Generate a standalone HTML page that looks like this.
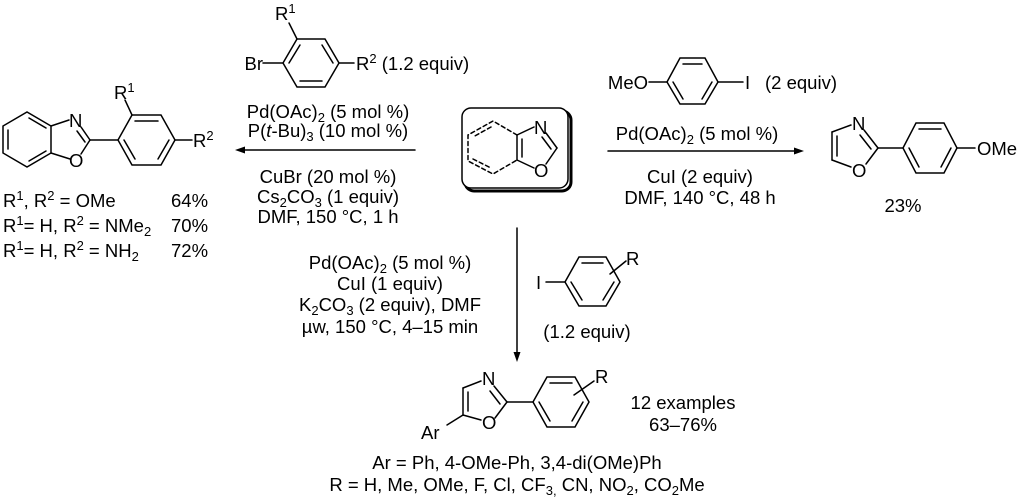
<!DOCTYPE html>
<html><head><meta charset="utf-8"><style>
html,body{margin:0;padding:0;background:#fff;}
svg{display:block;font-family:"Liberation Sans",sans-serif;}
text{font-size:18.5px;fill:#000;}
.s{font-size:13px;}
</style></head><body>
<svg width="1024" height="504" viewBox="0 0 1024 504" xmlns="http://www.w3.org/2000/svg">
<g stroke="#000" stroke-width="1.5" fill="none" stroke-linecap="round">
<path d="M3,126 L3,153 L27,167 L51,153 L51,126 L27,112 Z"/>
<line x1="8" y1="130" x2="8" y2="149"/>
<line x1="29" y1="118" x2="46" y2="128"/>
<line x1="29" y1="161" x2="46" y2="151"/>
<line x1="51" y1="126" x2="69" y2="120"/>
<line x1="81" y1="127" x2="90" y2="140"/>
<line x1="77" y1="131" x2="85" y2="142"/>
<line x1="90" y1="140" x2="81" y2="154"/>
<line x1="70" y1="159" x2="51" y2="153"/>
<line x1="90" y1="140" x2="118" y2="140"/>
<path d="M118,140 L132,115 L161,115 L175,140 L161,165 L132,165 Z"/>
<line x1="135" y1="121" x2="158" y2="121"/>
<line x1="169" y1="140" x2="158" y2="159"/>
<line x1="124" y1="140" x2="135" y2="159"/>
<line x1="132" y1="115" x2="125" y2="100"/>
<line x1="175" y1="140" x2="192" y2="140"/>
<line x1="263" y1="63" x2="283" y2="63"/>
<path d="M283,63 L297,39 L325,39 L339,63 L325,87 L297,87 Z"/>
<line x1="289" y1="63" x2="300" y2="45"/>
<line x1="322" y1="45" x2="333" y2="63"/>
<line x1="300" y1="81" x2="322" y2="81"/>
<line x1="297" y1="39" x2="289" y2="23"/>
<line x1="339" y1="63" x2="354" y2="63"/>
<line x1="415" y1="150" x2="242" y2="150"/>
<line x1="608" y1="151" x2="796" y2="151"/>
<line x1="517" y1="228" x2="517" y2="353"/>
<rect x="465" y="111" width="106" height="80" rx="9" stroke-width="3"/>
<rect x="462" y="108" width="106" height="80" rx="9" fill="#fff"/>
<line x1="517" y1="135" x2="534" y2="127"/>
<line x1="546" y1="133" x2="557" y2="148"/>
<line x1="542" y1="137" x2="551" y2="149"/>
<line x1="557" y1="148" x2="546" y2="164"/>
<line x1="534" y1="168" x2="517" y2="160"/>
<line x1="517" y1="135" x2="517" y2="160"/>
<line x1="522" y1="139" x2="522" y2="157"/>
<g stroke-dasharray="4,3">
<path d="M517,135 L493,121 L468,135 L468,161 L493,174 L517,160"/>
<line x1="491" y1="127" x2="473" y2="137"/>
<line x1="473" y1="159" x2="491" y2="168"/>
</g>
<line x1="649" y1="82" x2="667" y2="82"/>
<path d="M667,82 L680,58 L705,58 L718,82 L705,104 L680,104 Z"/>
<line x1="683" y1="64" x2="702" y2="64"/>
<line x1="712" y1="82" x2="702" y2="99"/>
<line x1="673" y1="82" x2="683" y2="99"/>
<line x1="718" y1="82" x2="743" y2="82"/>
<line x1="832" y1="132" x2="851" y2="125"/>
<line x1="864" y1="130" x2="878" y2="148"/>
<line x1="860" y1="135" x2="871" y2="149"/>
<line x1="878" y1="148" x2="866" y2="164"/>
<line x1="851" y1="167" x2="832" y2="160"/>
<line x1="832" y1="132" x2="832" y2="160"/>
<line x1="837" y1="136" x2="837" y2="156"/>
<line x1="878" y1="148" x2="903" y2="148"/>
<path d="M903,148 L916,123 L944,123 L957,148 L944,173 L916,173 Z"/>
<line x1="919" y1="129" x2="941" y2="129"/>
<line x1="951" y1="148" x2="941" y2="167"/>
<line x1="909" y1="148" x2="919" y2="167"/>
<line x1="957" y1="148" x2="975" y2="148"/>
<line x1="546" y1="282" x2="565" y2="282"/>
<path d="M565,282 L579,257 L606,257 L620,282 L606,306 L579,306 Z"/>
<line x1="582" y1="263" x2="603" y2="263"/>
<line x1="614" y1="282" x2="603" y2="300"/>
<line x1="571" y1="282" x2="582" y2="300"/>
<line x1="610" y1="274" x2="626" y2="261"/>
<line x1="463" y1="388" x2="481" y2="381"/>
<line x1="494" y1="386" x2="507" y2="402"/>
<line x1="490" y1="391" x2="500" y2="404"/>
<line x1="507" y1="402" x2="495" y2="418"/>
<line x1="481" y1="420" x2="463" y2="415"/>
<line x1="463" y1="388" x2="463" y2="415"/>
<line x1="468" y1="392" x2="468" y2="411"/>
<line x1="463" y1="415" x2="447" y2="425"/>
<line x1="507" y1="402" x2="533" y2="402"/>
<path d="M533,402 L547,377 L575,377 L589,402 L575,427 L547,427 Z"/>
<line x1="550" y1="383" x2="572" y2="383"/>
<line x1="583" y1="402" x2="572" y2="421"/>
<line x1="539" y1="402" x2="550" y2="421"/>
<line x1="574" y1="395" x2="594" y2="381"/>
</g>
<g fill="#000">
<polygon points="235,150 245,146.5 245,153.5"/>
<polygon points="804,151 794,147.5 794,154.5"/>
<polygon points="517,362 513.5,352 520.5,352"/>
</g>
<g>
<text x="69" y="127">N</text>
<text x="69" y="167">O</text>
<text x="114" y="99">R<tspan class="s" dy="-7">1</tspan></text>
<text x="193" y="147">R<tspan class="s" dy="-7">2</tspan></text>
<text x="3" y="207">R<tspan class="s" dy="-7">1</tspan><tspan dy="7">, R</tspan><tspan class="s" dy="-7">2</tspan><tspan dy="7"> = OMe</tspan></text>
<text x="171" y="207">64%</text>
<text x="3" y="232">R<tspan class="s" dy="-7">1</tspan><tspan dy="7">= H, R</tspan><tspan class="s" dy="-7">2</tspan><tspan dy="7"> = NMe</tspan><tspan class="s" dy="4">2</tspan></text>
<text x="171" y="232">70%</text>
<text x="3" y="257">R<tspan class="s" dy="-7">1</tspan><tspan dy="7">= H, R</tspan><tspan class="s" dy="-7">2</tspan><tspan dy="7"> = NH</tspan><tspan class="s" dy="4">2</tspan></text>
<text x="171" y="257">72%</text>
<text x="263" y="70" text-anchor="end">Br</text>
<text x="275" y="20">R<tspan class="s" dy="-7">1</tspan></text>
<text x="356" y="70">R<tspan class="s" dy="-7">2</tspan><tspan dy="7">  (1.2 equiv)</tspan></text>
<g text-anchor="middle">
<text x="328" y="118">Pd(OAc)<tspan class="s" dy="4">2</tspan><tspan dy="-4"> (5 mol %)</tspan></text>
<text x="328" y="137">P(<tspan font-style="italic">t</tspan>-Bu)<tspan class="s" dy="4">3</tspan><tspan dy="-4"> (10 mol %)</tspan></text>
<text x="328" y="183">CuBr (20 mol %)</text>
<text x="328" y="203">Cs<tspan class="s" dy="4">2</tspan><tspan dy="-4">CO</tspan><tspan class="s" dy="4">3</tspan><tspan dy="-4"> (1 equiv)</tspan></text>
<text x="328" y="223">DMF, 150 °C, 1 h</text>
<text x="697" y="140">Pd(OAc)<tspan class="s" dy="4">2</tspan><tspan dy="-4"> (5 mol %)</tspan></text>
<text x="700" y="183">CuI (2 equiv)</text>
<text x="700" y="204">DMF, 140 °C, 48 h</text>
<text x="903" y="212">23%</text>
<text x="390" y="269">Pd(OAc)<tspan class="s" dy="4">2</tspan><tspan dy="-4"> (5 mol %)</tspan></text>
<text x="390" y="290">CuI (1 equiv)</text>
<text x="390" y="311">K<tspan class="s" dy="4">2</tspan><tspan dy="-4">CO</tspan><tspan class="s" dy="4">3</tspan><tspan dy="-4"> (2 equiv), DMF</tspan></text>
<text x="390" y="333">µw, 150 °C, 4–15 min</text>
<text x="587" y="338">(1.2 equiv)</text>
<text x="683" y="409">12 examples</text>
<text x="683" y="431">63–76%</text>
<text x="517" y="469">Ar = Ph, 4-OMe-Ph, 3,4-di(OMe)Ph</text>
<text x="517" y="491">R = H, Me, OMe, F, Cl, CF<tspan class="s" dy="4">3,</tspan><tspan dy="-4"> CN, NO</tspan><tspan class="s" dy="4">2</tspan><tspan dy="-4">, CO</tspan><tspan class="s" dy="4">2</tspan><tspan dy="-4">Me</tspan></text>
</g>
<text x="534" y="134">N</text>
<text x="534" y="177">O</text>
<text x="648" y="89" text-anchor="end">MeO</text>
<text x="745" y="89">I</text>
<text x="765" y="89">(2 equiv)</text>
<text x="852" y="130">N</text>
<text x="852" y="177">O</text>
<text x="977" y="155">OMe</text>
<text x="536" y="289">I</text>
<text x="626" y="265">R</text>
<text x="482" y="385">N</text>
<text x="482" y="429">O</text>
<text x="595" y="383">R</text>
<text x="421" y="439">Ar</text>
</g>
</svg>
</body></html>
